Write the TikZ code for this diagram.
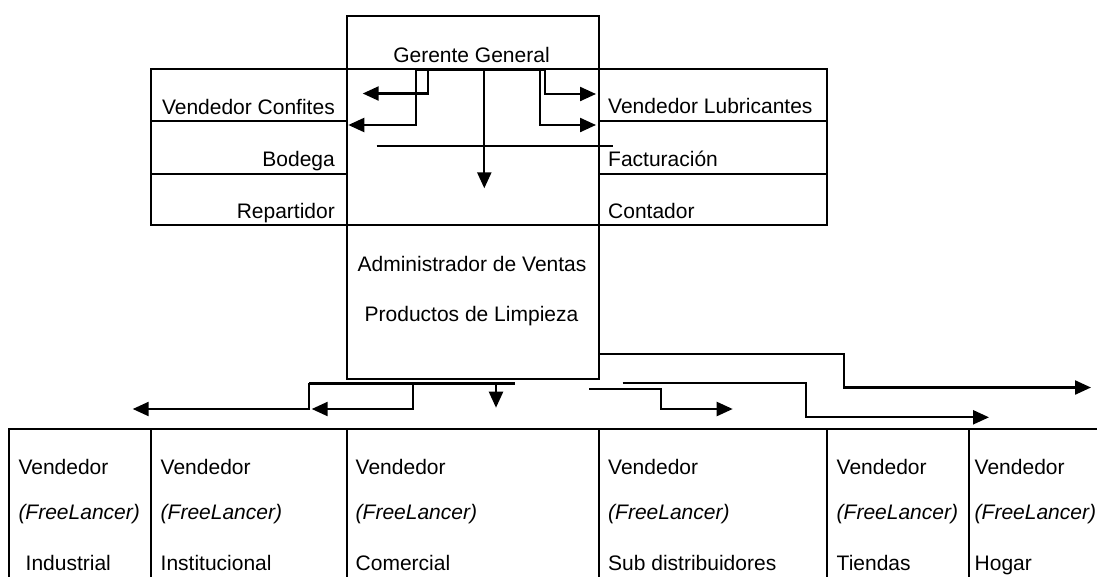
\documentclass[tikz,border=0pt]{standalone}
\usepackage{fontspec}
\setmainfont{Liberation Sans}
\usetikzlibrary{arrows.meta}
\begin{document}
\begin{tikzpicture}[x=1pt,y=-1pt,
  box/.style={draw, line width=2pt, inner sep=0pt, anchor=north west},
  txt/.style={inner sep=0pt, font=\fontsize{21}{25}\selectfont},
  itxt/.style={txt, font=\fontsize{21}{25}\selectfont\itshape},
  bar/.style={line width=2.4pt},
  thin/.style={line width=1.2pt},
  conn/.style={line width=2.3pt, -{Triangle[length=16pt,width=14pt]}}]
\useasboundingbox (0,0) rectangle (1097,576);
\clip (0,0) rectangle (1097,576);
\fill[white] (0,0) rectangle (1097,576);

% ---- top block ----
\node[box, minimum width=252pt, minimum height=53pt] (gg) at (346,15) {};
\node[box, minimum width=196pt, minimum height=52pt] (vc) at (150,68) {};
\node[box, minimum width=196pt, minimum height=53pt] (bod) at (150,120) {};
\node[box, minimum width=196pt, minimum height=51pt] (rep) at (150,173) {};
\node[box, minimum width=228pt, minimum height=52pt] (vl) at (598,68) {};
\node[box, minimum width=228pt, minimum height=53pt] (fac) at (598,120) {};
\node[box, minimum width=228pt, minimum height=51pt] (con) at (598,173) {};
\node[box, minimum width=252pt, minimum height=154pt] (adm) at (346,224) {};

\node[txt, anchor=base] (tgg) at (471.5,62.5) {Gerente General};
\node[txt, anchor=base east] (tvc) at (335,114) {Vendedor Confites};
\node[txt, anchor=base east] (tbod) at (335,166) {Bodega};
\node[txt, anchor=base east] (trep) at (335,218.5) {Repartidor};
\node[txt, anchor=base west] (tvl) at (608,113.5) {Vendedor Lubricantes};
\node[txt, anchor=base west] (tfac) at (608,166) {Facturación};
\node[txt, anchor=base west] (tcon) at (608,218.5) {Contador};
\node[txt, anchor=base] (tadm1) at (472,271.5) {Administrador de Ventas};
\node[txt, anchor=base] (tadm2) at (471.5,321.5) {Productos de Limpieza};

% top connectors
\coordinate (tbL) at (416,69.6);
\coordinate (tbR) at (545,69.6);
\draw[bar] (tbL) -- (tbR);
\coordinate (ta1) at (428.3,69.6);
\coordinate (te1) at (362.7,93.5);
\coordinate (ta2) at (416,69.6);
\coordinate (te2) at (348.3,125);
\coordinate (ta3) at (484.3,69.6);
\coordinate (te3) at (484.3,188.3);
\coordinate (ta4) at (545,69.6);
\coordinate (te4) at (596,94);
\coordinate (ta5) at (540,69.6);
\coordinate (te5) at (596,125);
\draw[conn] (ta1) |- (te1);
\draw[conn] (ta2) |- (te2);
\draw[conn] (ta3) -- (te3);
\draw[conn] (ta4) |- (te4);
\draw[conn] (ta5) |- (te5);
\coordinate (thA) at (376.7,146);
\coordinate (thB) at (613,146);
\draw[thin] (thA) -- (thB);

% ---- bottom table ----
\node[box, minimum width=142pt, minimum height=180pt] (c1) at (8,428) {};
\node[box, minimum width=196pt, minimum height=180pt] (c2) at (150,428) {};
\node[box, minimum width=252pt, minimum height=180pt] (c3) at (346,428) {};
\node[box, minimum width=228pt, minimum height=180pt] (c4) at (598,428) {};
\node[box, minimum width=142pt, minimum height=180pt] (c5) at (826,428) {};
\node[box, minimum width=160pt, minimum height=180pt] (c6) at (968,428) {};

\node[txt, anchor=base west] (v1) at (18.3,474) {Vendedor};
\node[itxt, anchor=base west] (f1) at (18.3,519) {(FreeLancer)};
\node[txt, anchor=base west] (n1) at (25.5,570.5) {Industrial};
\node[txt, anchor=base west] (v2) at (160.5,474) {Vendedor};
\node[itxt, anchor=base west] (f2) at (160.5,519) {(FreeLancer)};
\node[txt, anchor=base west] (n2) at (160.5,570.5) {Institucional};
\node[txt, anchor=base west] (v3) at (355.5,474) {Vendedor};
\node[itxt, anchor=base west] (f3) at (355.5,519) {(FreeLancer)};
\node[txt, anchor=base west] (n3) at (355.5,570.5) {Comercial};
\node[txt, anchor=base west] (v4) at (608,474) {Vendedor};
\node[itxt, anchor=base west] (f4) at (608,519) {(FreeLancer)};
\node[txt, anchor=base west] (n4) at (608,570.5) {Sub distribuidores};
\node[txt, anchor=base west] (v5) at (836.5,474) {Vendedor};
\node[itxt, anchor=base west] (f5) at (836.5,519) {(FreeLancer)};
\node[txt, anchor=base west] (n5) at (836.5,570.5) {Tiendas};
\node[txt, anchor=base west] (v6) at (974.5,474) {Vendedor};
\node[itxt, anchor=base west] (f6) at (974.5,519) {(FreeLancer)};
\node[txt, anchor=base west] (n6) at (974.5,570.5) {Hogar};

% bottom connectors (left)
\coordinate (bbL) at (309,383.3);
\coordinate (bbR) at (515,383.3);
\draw[bar] (bbL) -- (bbR);
\coordinate (be1) at (132.7,409);
\coordinate (bs2) at (413.3,383.3);
\coordinate (be2) at (311.7,409);
\coordinate (bs3) at (496,383.3);
\coordinate (be3) at (496,407.7);
\draw[conn] (bbL) |- (be1);
\draw[conn] (bs2) |- (be2);
\draw[conn] (bs3) -- (be3);

% bottom connectors (right)
\coordinate (r1s) at (adm.east |- 0,354);
\coordinate (r1k) at (844.3,354);
\coordinate (r1e) at (1091,387.5);
\draw[conn] (r1s) -- (r1k) |- (r1e);
\coordinate (r2s) at (622.7,382.7);
\coordinate (r2k) at (806,382.7);
\coordinate (r2e) at (989,417.3);
\draw[conn] (r2s) -- (r2k) |- (r2e);
\coordinate (r3s) at (589.3,389);
\coordinate (r3k) at (661,389);
\coordinate (r3e) at (732.7,409);
\draw[conn] (r3s) -- (r3k) |- (r3e);
\end{tikzpicture}
\end{document}
